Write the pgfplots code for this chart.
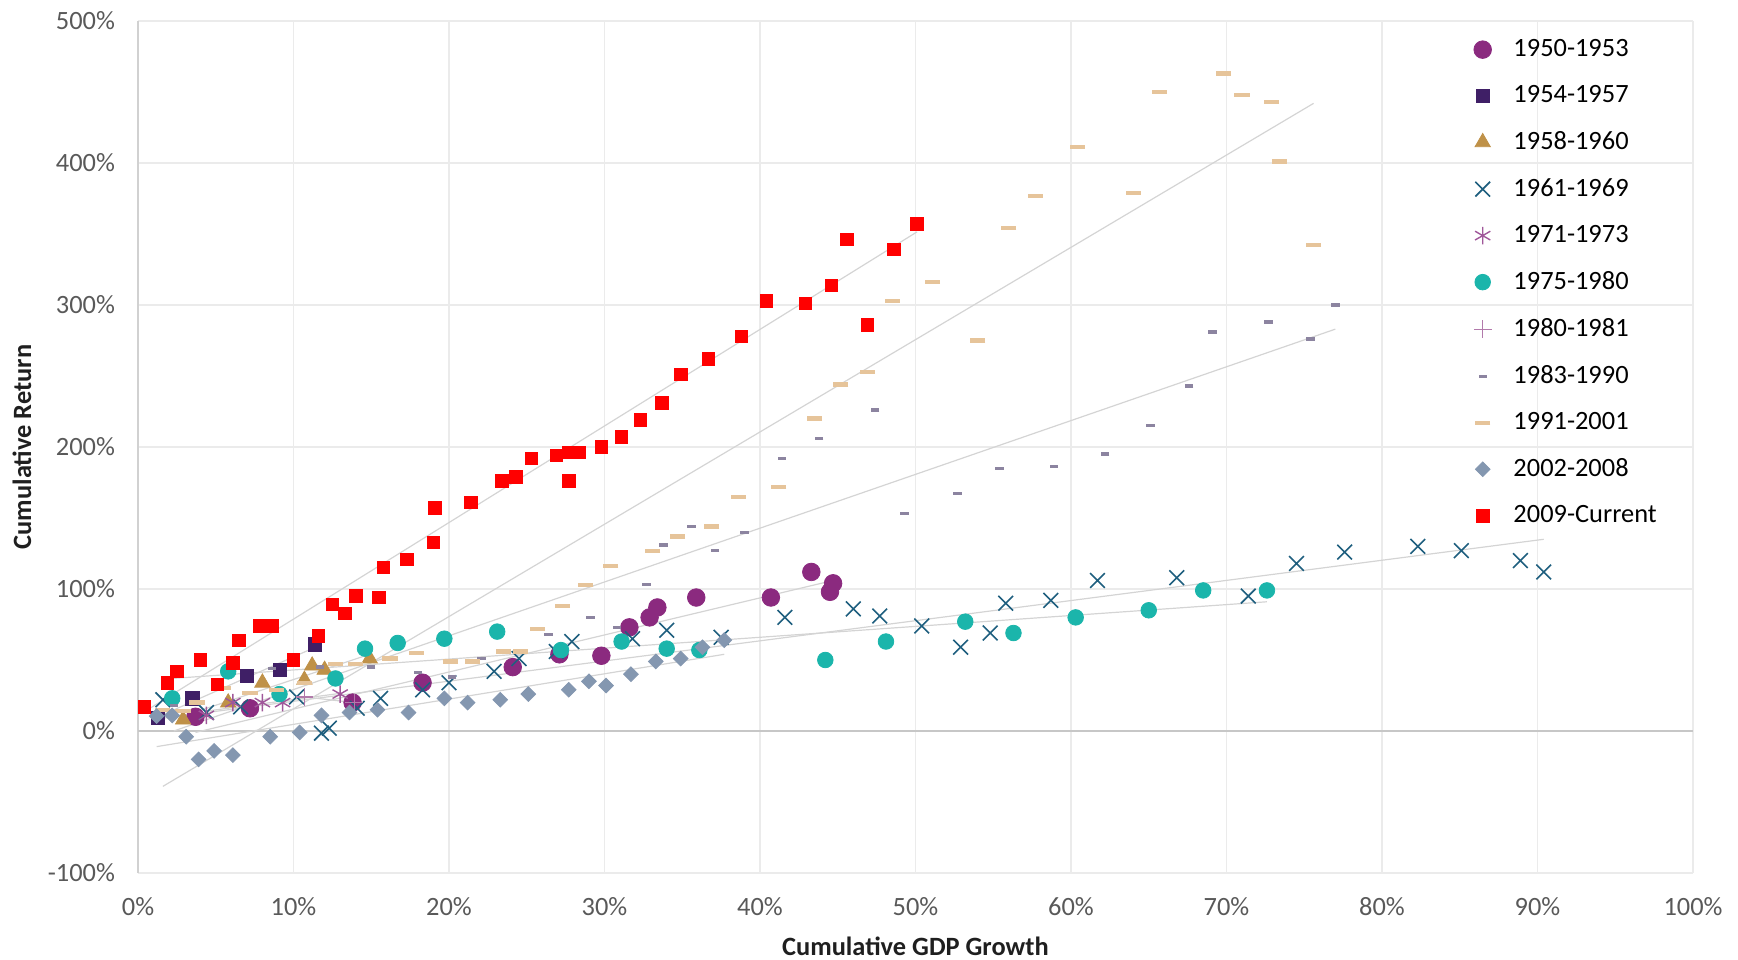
\documentclass[border=0pt]{standalone}
\usepackage{pgfplots}
\pgfplotsset{compat=1.18}
\usepackage{fontspec}
\setmainfont{Carlito}
\newcommand\chartfont{\fontsize{13.2bp}{15.8bp}\selectfont}

\definecolor{cFifty}{HTML}{8B2A7F}
\definecolor{cFiftyFour}{HTML}{3F1F66}
\definecolor{cFiftyEight}{HTML}{BF9148}
\definecolor{cSixtyOne}{HTML}{1F5F7F}
\definecolor{cSeventyOne}{HTML}{A0579A}
\definecolor{cSeventyFive}{HTML}{1BB5AB}
\definecolor{cEighty}{HTML}{B27AAB}
\definecolor{cEightyThree}{HTML}{8C84A0}
\definecolor{cNinetyOne}{HTML}{E6C49A}
\definecolor{cTwoThousand}{HTML}{8497B0}
\definecolor{cRed}{HTML}{FF0000}
\definecolor{tickgray}{HTML}{595959}

\begin{document}
\begin{tikzpicture}
\useasboundingbox (-69bp,-43.5bp) rectangle (800bp,436.5bp);
\begin{axis}[
  scale only axis, width=777.5bp, height=426bp,
  xmin=0, xmax=100, ymin=-100, ymax=500,
  clip=false,
  xtick={0,10,...,100},
  xticklabels={0\%,10\%,20\%,30\%,40\%,50\%,60\%,70\%,80\%,90\%,100\%},
  ytick={-100,0,100,200,300,400,500},
  yticklabels={-100\%,0\%,100\%,200\%,300\%,400\%,500\%},
  /pgf/number format/assume math mode=true,
  tick label style={font=\chartfont, text=tickgray},
  xticklabel style={yshift=-8.5bp},
  yticklabel style={xshift=-8bp},
  major tick length=0pt,
  tick style={draw=none},
  axis line style={draw=none},
  grid=major,
  major grid style={draw=black!8, line width=0.6bp},
  xlabel={\bfseries Cumulative GDP Growth},
  ylabel={\bfseries Cumulative Return},
  label style={font=\chartfont, text=black!88},
  xlabel style={at={(rel axis cs:0.5,-0.086)}, anchor=center},
  ylabel style={at={(rel axis cs:-0.0746,0.5)}, anchor=center},
  legend style={at={(rel axis cs:0.855,0.988)}, anchor=north west,
    draw=none, fill=none, font=\chartfont, row sep=9bp,
    /tikz/every odd column/.append style={column sep=9bp}},
  legend cell align=left,
  trend/.style={draw=black!17, line width=0.6bp, no markers, forget plot},
]
\draw[draw=black!18, line width=0.7bp] (axis cs:0,-100) -- (axis cs:0,500);
\draw[draw=black!22, line width=0.8bp] (axis cs:0,0) -- (axis cs:100,0);

% 1950-1953
\addplot[only marks, mark=*, color=cFifty, mark size=4.4bp] coordinates {
(3.7,10) (7.2,16) (13.8,20) (18.3,34) (24.1,45) (27.1,54) (29.8,53) (31.6,73)
(32.9,80) (33.4,87) (35.9,94) (40.7,94) (43.3,112) (44.7,104) (44.5,98)
};
\addlegendentry{1950-1953}
% 1954-1957
\addplot[only marks, mark=square*, color=cFiftyFour, mark size=3.3bp] coordinates {
(1.3,9) (3.5,23) (7.0,39) (9.1,43) (11.4,61)
};
\addlegendentry{1954-1957}
% 1958-1960
\addplot[only marks, mark=triangle*, color=cFiftyEight, mark size=4.4bp] coordinates {
(2.9,8) (5.8,20) (8.0,34) (10.7,36) (11.2,46) (12.0,43) (14.9,51)
};
\addlegendentry{1958-1960}
% 1961-1969
\addplot[only marks, mark=x, color=cSixtyOne, mark size=5.2bp, mark options={line width=0.8bp}] coordinates {
(1.6,22) (4.4,13) (6.6,17) (10.2,24) (11.8,-1.5) (12.3,2) (14.1,16) (15.6,23)
(18.3,29) (20.0,34) (22.9,42) (24.5,51) (26.9,56) (27.9,63) (31.8,65) (34.0,71)
(37.5,66) (41.6,80) (46.0,86) (47.7,81) (50.4,74) (52.9,59) (54.8,69) (55.8,90)
(58.7,92) (61.7,106) (66.8,108) (71.4,95) (74.5,118) (77.6,126) (82.3,130)
(85.1,127) (88.9,120) (90.4,112)
};
\addlegendentry{1961-1969}
% 1971-1973
\addplot[only marks, mark=asterisk, color=cSeventyOne, mark size=4.4bp, mark options={line width=0.7bp}] coordinates {
(4.4,11) (6.1,20) (8.0,20) (9.3,20) (13.0,26)
};
\addlegendentry{1971-1973}
% 1975-1980
\addplot[only marks, mark=*, color=cSeventyFive, mark size=3.9bp] coordinates {
(2.2,23) (5.8,42) (9.1,26) (12.7,37) (14.6,58) (16.7,62) (19.7,65) (23.1,70)
(27.2,57) (31.1,63) (34.0,58) (36.1,57) (44.2,50) (48.1,63) (53.2,77) (56.3,69)
(60.3,80) (65.0,85) (68.5,99) (72.6,99)
};
\addlegendentry{1975-1980}
% 1980-1981
\addplot[only marks, mark=+, color=cEighty, mark size=4.4bp, mark options={line width=0.6bp}] coordinates {
(10.7,24) (13.9,20)
};
\addlegendentry{1980-1981}
% 1983-1990
\addplot[only marks, mark=-, color=cEightyThree, mark size=2.1bp, mark options={line width=1.6bp}] coordinates {
(2.3,18) (8.6,44) (11.7,45) (15.0,45) (18.0,41) (20.2,38) (22.1,51) (26.4,68)
(29.1,80) (30.8,73) (32.7,103) (33.8,131) (35.6,144) (37.1,127) (39.0,140)
(41.4,192) (43.8,206) (47.4,226) (49.3,153) (52.7,167) (55.4,185) (58.9,186)
(62.2,195) (65.1,215) (67.6,243) (69.1,281) (72.7,288) (75.4,276) (77.0,300)
};
\addlegendentry{1983-1990}
% 1991-2001
\addplot[only marks, mark=-, color=cNinetyOne, mark size=3.8bp, mark options={line width=2.1bp}] coordinates {
(1.6,15) (2.9,14) (3.8,20) (5.5,30) (7.2,27) (8.9,29) (10.7,34) (12.7,47)
(14.0,47) (16.2,51) (17.9,55) (20.1,49) (21.5,49) (23.5,56) (24.6,56) (25.7,72)
(27.3,88) (28.8,103) (30.4,116) (33.1,127) (34.7,137) (36.9,144) (38.6,165)
(41.2,172) (43.5,220) (45.2,244) (46.9,253) (48.5,303) (51.1,316) (54.0,275)
(56.0,354) (57.7,377) (60.4,411) (64.0,379) (65.7,450) (69.8,463) (71.0,448)
(72.9,443) (73.4,401) (75.6,342)
};
\addlegendentry{1991-2001}
% 2002-2008
\addplot[only marks, mark=square*, color=cTwoThousand, mark size=2.6bp, mark options={rotate=45}] coordinates {
(1.2,10.5) (2.2,11) (3.1,-4) (3.9,-20) (4.9,-14) (6.1,-17) (8.5,-4) (10.4,-1)
(11.8,11) (13.6,13) (15.4,15) (17.4,13) (19.7,23) (21.2,20) (23.3,22) (25.1,26)
(27.7,29) (29.0,35) (30.1,32) (31.7,40) (33.3,49) (34.9,51) (36.3,59) (37.7,64)
};
\addlegendentry{2002-2008}
% 2009-Current
\addplot[only marks, mark=square*, color=cRed, mark size=3.1bp] coordinates {
(0.4,17) (1.9,34) (2.5,42) (4.0,50) (5.1,33) (6.1,48) (6.5,64) (7.8,74) (8.6,74)
(10.0,50) (11.6,67) (12.5,89) (13.3,83) (14.0,95) (15.5,94) (15.8,115) (17.3,121)
(19.0,133) (19.1,157) (21.4,161) (23.4,176) (24.3,179) (25.3,192) (26.9,194)
(27.7,196) (27.7,176) (28.4,196) (29.8,200) (31.1,207) (32.3,219) (33.7,231)
(34.9,251) (36.7,262) (38.8,278) (40.4,303) (42.9,301) (44.6,314) (45.6,346)
(46.9,286) (48.6,339) (50.1,357)
};
\addlegendentry{2009-Current}

% linear trend lines
\addplot[trend] coordinates {(3.7,-1) (44.7,106)};
\addplot[trend] coordinates {(1.3,10) (11.4,59)};
\addplot[trend] coordinates {(2.9,10.5) (14.9,54)};
\addplot[trend] coordinates {(1.6,9) (90.4,135)};
\addplot[trend] coordinates {(4.4,14) (13.0,26.5)};
\addplot[trend] coordinates {(2.2,37) (72.6,91)};
\addplot[trend] coordinates {(10.7,24) (13.9,20)};
\addplot[trend] coordinates {(2.3,0) (77.0,283)};
\addplot[trend] coordinates {(1.6,-39) (75.6,442)};
\addplot[trend] coordinates {(1.2,-11) (37.7,54)};
\addplot[trend] coordinates {(0.4,13.5) (50.1,351.5)};
\end{axis}
\end{tikzpicture}
\end{document}
